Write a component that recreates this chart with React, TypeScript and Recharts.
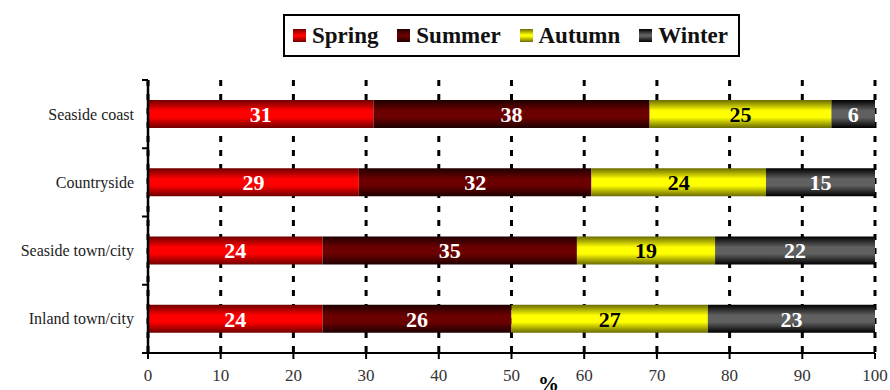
import React from 'react';
import { BarChart, Bar, XAxis, YAxis, CartesianGrid, LabelList, ReferenceLine } from 'recharts';

const categories = ['Seaside coast', 'Countryside', 'Seaside town/city', 'Inland town/city'];
const spring = [31, 29, 24, 24];
const summer = [38, 32, 35, 26];
const autumn = [25, 24, 19, 27];
const winter = [6, 15, 22, 23];
const xTicks = [0, 10, 20, 30, 40, 50, 60, 70, 80, 90, 100];

const seasons = [
  { key: 'spring', name: 'Spring', dark: '#6e0000', light: '#ff0000', text: '#ffffff' },
  { key: 'summer', name: 'Summer', dark: '#1e0000', light: '#6c0000', text: '#ffffff' },
  { key: 'autumn', name: 'Autumn', dark: '#6a6a00', light: '#ffff00', text: '#000000' },
  { key: 'winter', name: 'Winter', dark: '#000000', light: '#606060', text: '#ffffff' },
];

const data = categories.map((name, i) => ({
  name,
  spring: spring[i],
  summer: summer[i],
  autumn: autumn[i],
  winter: winter[i],
}));

const FONT = '"Liberation Serif", "DejaVu Serif", serif';
const TICK_GAP = 12;

const LegendBox = () => (
  <div
    style={{
      position: 'absolute',
      left: 283,
      top: 14,
      width: 457,
      height: 43,
      boxSizing: 'border-box',
      border: '2.5px solid #000',
      background: '#fff',
      display: 'flex',
      alignItems: 'center',
      justifyContent: 'space-between',
      padding: '0 10px 0 8px',
      fontFamily: FONT,
      fontWeight: 700,
      fontSize: 23,
      color: '#111',
      zIndex: 2,
    }}
  >
    {seasons.map((s) => (
      <div key={s.key} style={{ display: 'flex', alignItems: 'center', gap: 6 }}>
        <div
          style={{
            width: 13,
            height: 13,
            background: `linear-gradient(to bottom, ${s.dark}, ${s.light} 45%, ${s.light} 55%, ${s.dark})`,
          }}
        />
        <span>{s.name}</span>
      </div>
    ))}
  </div>
);

// category label plus small tick marks at the band edges
const CategoryTick = (props: any) => {
  const { x, y, payload, index, visibleTicksCount } = props;
  const half = payload?.offset ?? 0;
  const axisX = x + TICK_GAP;
  const isLast = index === visibleTicksCount - 1;
  return (
    <g>
      <text x={x - 2} y={y} dy="0.35em" textAnchor="end" fill="#222" fontSize={16} fontFamily={FONT}>
        {payload.value}
      </text>
      <line x1={axisX - 6} x2={axisX} y1={y - half} y2={y - half} stroke="#000" strokeWidth={2} />
      {isLast && <line x1={axisX - 6} x2={axisX} y1={y + half} y2={y + half} stroke="#000" strokeWidth={2} />}
    </g>
  );
};

export default function App() {
  return (
    <div style={{ position: 'absolute', left: 0, top: 0, width: 890, height: 390, background: '#fff', overflow: 'hidden' }}>
      <LegendBox />
      <BarChart
        width={890}
        height={390}
        data={data}
        layout="vertical"
        margin={{ top: 80, right: 15, bottom: 0, left: 0 }}
        barSize={28}
      >
        <defs>
          {seasons.map((s) => (
            <linearGradient key={s.key} id={`grad-${s.key}`} x1="0" y1="0" x2="0" y2="1">
              <stop offset="0%" stopColor={s.dark} />
              <stop offset="38%" stopColor={s.light} />
              <stop offset="62%" stopColor={s.light} />
              <stop offset="100%" stopColor={s.dark} />
            </linearGradient>
          ))}
        </defs>
        <CartesianGrid horizontal={false} stroke="#000" strokeWidth={3} strokeDasharray="6 8" />
        <XAxis
          type="number"
          domain={[0, 100]}
          ticks={xTicks}
          height={37}
          stroke="#000"
          strokeWidth={2}
          tickSize={6}
          tickMargin={10}
          tick={{ fill: '#333', fontSize: 17, fontFamily: FONT }}
          label={{ value: '%', position: 'insideBottom', offset: -1, dx: 37, fill: '#000', fontSize: 21, fontWeight: 700, fontFamily: FONT }}
        />
        <YAxis
          type="category"
          dataKey="name"
          width={148}
          axisLine={false}
          tickLine={false}
          tickSize={0}
          tickMargin={TICK_GAP}
          tick={<CategoryTick />}
        />
        <ReferenceLine x={0} stroke="#000" strokeWidth={2.5} />
        {seasons.map((s) => (
          <Bar key={s.key} dataKey={s.key} name={s.name} stackId="a" fill={`url(#grad-${s.key})`} isAnimationActive={false}>
            <LabelList
              dataKey={s.key}
              position="center"
              fill={s.text}
              style={{ fontSize: 22, fontWeight: 700, fontFamily: FONT }}
            />
          </Bar>
        ))}
      </BarChart>
    </div>
  );
}
